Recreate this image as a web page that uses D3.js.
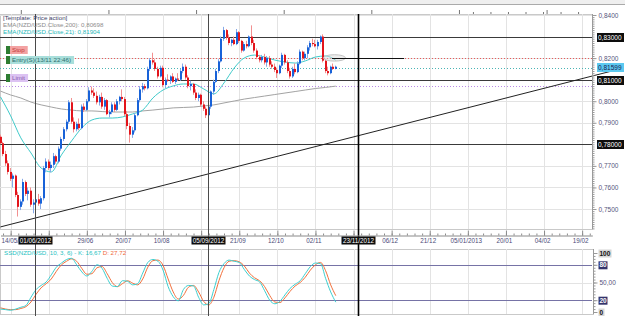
<!DOCTYPE html>
<html>
<head>
<meta charset="utf-8">
<script src="https://cdn.jsdelivr.net/npm/d3@7"></script>
<style>
    body { margin: 0; background: #fff; }
    svg { display: block; font-family: 'Liberation Sans', Arial, sans-serif; }
</style>
</head>
<body>
<div id="chart"></div>
<script>
// daily NZD/USD candles, [open, high, low, close]
const candles = [
    [.7835,.7845,.7800,.7805],[.7805,.7812,.7745,.7755],[.7755,.7770,.7700,.7712],[.7712,.7725,.7660,.7672],
    [.7672,.7690,.7630,.7640],[.7640,.7665,.7600,.7655],[.7655,.7660,.7555,.7565],[.7565,.7580,.7465,.7510],
    [.7510,.7545,.7495,.7535],[.7535,.7640,.7520,.7625],[.7625,.7632,.7560,.7570],[.7570,.7600,.7540,.7585],
    [.7585,.7600,.7510,.7520],[.7520,.7545,.7480,.7530],[.7530,.7560,.7500,.7545],[.7545,.7570,.7515,.7525],
    [.7525,.7560,.7500,.7550],[.7550,.7700,.7540,.7690],[.7690,.7735,.7670,.7720],[.7720,.7730,.7680,.7690],
    [.7690,.7720,.7670,.7705],[.7705,.7760,.7690,.7745],[.7745,.7752,.7710,.7720],[.7720,.7790,.7712,.7780],
    [.7780,.7835,.7770,.7825],[.7825,.7880,.7815,.7870],[.7870,.7915,.7860,.7905],[.7905,.8005,.7895,.7995],
    [.7995,.8015,.7895,.7905],[.7905,.7925,.7855,.7870],[.7870,.7905,.7860,.7895],[.7895,.7920,.7865,.7875],
    [.7875,.7985,.7870,.7975],[.7975,.7990,.7950,.7960],[.7960,.8010,.7955,.8000],[.8000,.8065,.7995,.8050],
    [.8050,.8068,.8030,.8040],[.8040,.8060,.8015,.8025],[.8025,.8045,.7985,.7995],[.7995,.8030,.7980,.8020],
    [.8020,.8040,.7965,.7975],[.7975,.8015,.7960,.8005],[.8005,.8010,.7935,.7940],[.7940,.7960,.7925,.7950],
    [.7950,.7995,.7940,.7985],[.7985,.7995,.7950,.7960],[.7960,.8010,.7955,.8000],[.8000,.8025,.7985,.8020],
    [.8020,.8055,.8000,.8010],[.8010,.8020,.7930,.7940],[.7940,.7955,.7870,.7885],[.7885,.7900,.7808,.7845],
    [.7845,.7880,.7830,.7865],[.7865,.7945,.7855,.7935],[.7935,.8015,.7930,.8005],[.8005,.8070,.7995,.8055],
    [.8055,.8085,.8040,.8070],[.8070,.8080,.8050,.8060],[.8060,.8160,.8055,.8150],[.8150,.8200,.8140,.8190],
    [.8190,.8225,.8170,.8180],[.8180,.8195,.8140,.8150],[.8150,.8160,.8105,.8115],[.8115,.8165,.8110,.8155],
    [.8155,.8165,.8065,.8075],[.8075,.8110,.8060,.8100],[.8100,.8125,.8090,.8095],[.8095,.8120,.8080,.8115],
    [.8115,.8130,.8085,.8090],[.8090,.8110,.8080,.8105],[.8105,.8130,.8095,.8100],[.8100,.8150,.8095,.8140],
    [.8140,.8175,.8130,.8160],[.8160,.8170,.8100,.8110],[.8110,.8120,.8060,.8070],[.8070,.8095,.8050,.8080],
    [.8080,.8085,.8030,.8040],[.8040,.8055,.8005,.8015],[.8015,.8040,.8000,.8030],[.8030,.8035,.7975,.7985],
    [.7985,.8000,.7955,.7965],[.7965,.7975,.7922,.7935],[.7935,.7985,.7920,.7975],[.7975,.8050,.7965,.8045],
    [.8045,.8100,.8030,.8090],[.8090,.8150,.8085,.8140],[.8140,.8195,.8130,.8185],[.8185,.8300,.8180,.8290],
    [.8290,.8345,.8280,.8330],[.8330,.8335,.8285,.8295],[.8295,.8310,.8260,.8270],[.8270,.8290,.8255,.8285],
    [.8285,.8300,.8260,.8265],[.8265,.8335,.8260,.8320],[.8320,.8325,.8270,.8280],[.8280,.8285,.8225,.8235],
    [.8235,.8275,.8230,.8265],[.8265,.8280,.8245,.8255],[.8255,.8305,.8250,.8300],[.8300,.8352,.8260,.8270],
    [.8270,.8285,.8225,.8235],[.8235,.8245,.8195,.8205],[.8205,.8215,.8180,.8190],[.8190,.8215,.8180,.8205],
    [.8205,.8220,.8170,.8180],[.8180,.8210,.8160,.8200],[.8200,.8210,.8160,.8170],[.8170,.8185,.8150,.8160],
    [.8160,.8175,.8135,.8145],[.8145,.8155,.8108,.8130],[.8130,.8170,.8125,.8165],[.8165,.8225,.8155,.8215],
    [.8215,.8220,.8170,.8180],[.8180,.8190,.8130,.8140],[.8140,.8155,.8105,.8115],[.8115,.8160,.8108,.8150],
    [.8150,.8175,.8125,.8135],[.8135,.8185,.8130,.8175],[.8175,.8240,.8170,.8230],[.8230,.8235,.8190,.8200],
    [.8200,.8230,.8190,.8220],[.8220,.8260,.8200,.8250],[.8250,.8280,.8235,.8270],[.8270,.8290,.8255,.8265],
    [.8265,.8285,.8250,.8255],[.8255,.8285,.8240,.8275],[.8275,.8305,.8265,.8300],[.8300,.8310,.8180,.8188],
    [.8188,.8195,.8130,.8140],[.8140,.8160,.8120,.8130],[.8130,.8165,.8125,.8160],[.8160,.8175,.8145,.8150],
    [.8150,.8165,.8148,.8160]
];

// moving averages, one reading every 4 bars
const ema21 = [.8020,.7932,.7830,.7760,.7690,.7672,.7751,.7816,.7876,.7913,.7922,.7922,.7927,.7941,.7959,.8015,
    .8052,.8071,.8080,.8080,.8057,.8034,.8085,.8154,.8201,.8214,.8205,.8191,.8182,.8177,.8187,.8205,.8210,.8190];
const ema200 = [.8047,.8029,.8015,.7996,.7983,.7973,.7964,.7959,.7955,.7955,.7952,.7950,.7950,.7950,.7955,.7959,
    .7964,.7969,.7971,.7973,.7978,.7983,.7992,.8001,.8010,.8017,.8024,.8031,.8038,.8045,.8052,.8059,.8064,.8070];

// slow stochastic, one reading every 2 bars
const stochK = [5,4,3,5,8,11,25,38,45,51,63,76,83,89,91,80,68,61,69,80,74,57,44,43,53,52,46,48,66,84,89,86,71,43,
    26,19,38,45,44,25,12,14,38,67,82,88,86,84,72,61,55,51,36,20,14,18,29,40,47,53,65,77,83,82,57,34,16.67];
const stochD = [7,5,4,4,6,9,17,30,41,48,56,69,80,86,90,86,74,64,65,75,77,65,50,43,48,53,49,46,56,76,87,88,79,56,
    34,22,28,42,45,34,18,12,25,53,75,86,87,85,78,66,58,53,43,28,17,16,24,35,44,50,59,71,80,84,70,46,27.72];

// date axis, a label every 15 slots starting at slot 4 ('' = covered by a marker box)
const dateLabels = ['14/05/', '', '29/06', '20/07', '10/08', '', '21/09', '12/10', '02/11', '',
    '06/12', '21/12', '05/01/2013', '20/01', '04/02', '19/02'];
const priceLabels = [0.75, 0.76, 0.77, 0.79, 0.80, 0.82, 0.84];
const levels = [0.83, 0.81, 0.78];
const markers = [{slot: 13.6, label: '01/06/2012'}, {slot: 81.7, label: '05/09/2012'}, {slot: 140.7, label: '23/11/2012'}];
const orders = [
    {name: 'Stop', price: 0.8200},
    {name: 'Entry(S)(13/11 22:46)', price: 0.8155},
    {name: 'Limit', price: 0.8071}
];
const trendLine = [[0, 0.7417], [243, 0.8147]];
const targetLine = [[130.5, 0.8199], [158.9, 0.8199]];
const lastPrice = 0.81599;
const stochLevels = [80, 20];

(function(){
    const width = 625, height = 316;
    const right = 592;
    const top = 14, bottom = 229;
    const sTop = 249, sBottom = 314;

    const svg = d3.select('#chart')
        .append('svg')
            .attr('width', width)
            .attr('height', height);

    const x = d3.scaleLinear().domain([0, 233]).range([0.5, 592.3]);
    const y = d3.scaleLinear().domain([0.75, 0.84]).range([209, 15]);
    const ys = d3.scaleLinear().domain([0, 100]).range([312, 253]);
    const comma = f => d => d3.format(f)(d).replace('.', ',');
    const gridSlots = dateLabels.map((d, k) => 4 + 15 * k);

    // top strip + ruler
    svg.append('rect').attr('width', width).attr('height', 4).attr('fill', '#efefef');
    svg.append('line').attr('x1', 0).attr('x2', width).attr('y1', 4.5).attr('y2', 4.5).attr('stroke', '#aaa');
    svg.append('g')
        .attr('transform', `translate(0, ${top})`)
        .call(d3.axisTop(x).tickValues(d3.range(8, 233, 34.5)).tickSize(4).tickSizeOuter(0).tickFormat(''))
        .call(g => g.select('.domain').remove())
        .selectAll('line').attr('stroke', '#777');
    svg.append('g')
        .attr('transform', `translate(0, ${top})`)
        .call(d3.axisTop(x).tickValues(d3.range(186, 233, 6.9)).tickSize(2).tickSizeOuter(0).tickFormat(''))
        .call(g => g.select('.domain').remove())
        .selectAll('line').attr('stroke', '#777');

    // panels
    svg.append('rect').attr('x', 0.5).attr('y', top + 0.5).attr('width', right).attr('height', bottom - top)
        .attr('fill', '#fff').attr('stroke', '#c9c9c9');
    svg.append('rect').attr('x', 0.5).attr('y', sTop + 0.5).attr('width', right + 1).attr('height', sBottom - sTop)
        .attr('fill', '#fff').attr('stroke', '#c9c9c9');

    // grid
    const grid = svg.append('g').attr('stroke', '#e3e3e3').attr('shape-rendering', 'crispEdges');
    grid.selectAll('.hg').data(y.ticks(9)).join('line')
        .attr('x1', 0).attr('x2', right).attr('y1', d => Math.round(y(d)) + 0.5).attr('y2', d => Math.round(y(d)) + 0.5);
    grid.selectAll('.vg').data(gridSlots).join('line')
        .attr('x1', d => Math.round(x(d)) + 0.5).attr('x2', d => Math.round(x(d)) + 0.5)
        .attr('y1', top).attr('y2', bottom);
    grid.selectAll('.vs').data(gridSlots).join('line')
        .attr('x1', d => Math.round(x(d)) + 0.5).attr('x2', d => Math.round(x(d)) + 0.5)
        .attr('y1', sTop).attr('y2', sBottom);
    grid.append('line').attr('x1', 0).attr('x2', right).attr('y1', Math.round(ys(50)) + 0.5).attr('y2', Math.round(ys(50)) + 0.5);

    const main = svg.append('g');
    main.append('clipPath').attr('id', 'clipMain')
        .append('rect').attr('x', 0).attr('y', top).attr('width', right).attr('height', bottom - top);

    // order lines (dotted)
    const orderColor = ['#e85a5a', '#49b5b5', '#b98ae6'];
    main.selectAll('.ol').data(orders).join('line')
        .attr('x1', 0).attr('x2', right)
        .attr('y1', d => Math.round(y(d.price)) + 0.5).attr('y2', d => Math.round(y(d.price)) + 0.5)
        .attr('stroke', (d, i) => orderColor[i]).attr('stroke-dasharray', '1,2');

    // horizontal levels
    main.selectAll('.lv').data(levels).join('line')
        .attr('x1', 0).attr('x2', right)
        .attr('y1', d => Math.round(y(d)) + 0.5).attr('y2', d => Math.round(y(d)) + 0.5)
        .attr('stroke', '#3a3a3a');

    // moving averages
    const lineMA = d3.line().x((d, k) => x(k * 4)).y(d => y(d)).curve(d3.curveMonotoneX);
    const plotG = main.append('g').attr('clip-path', 'url(#clipMain)');
    plotG.append('path').attr('d', lineMA(ema200)).attr('fill', 'none').attr('stroke', '#a3a3a3');
    plotG.append('path').attr('d', lineMA(ema21)).attr('fill', 'none').attr('stroke', '#3fcaca');

    // candles
    const cx = i => Math.round(x(i));
    plotG.selectAll('.wick').data(candles).join('line')
        .attr('x1', (d, i) => cx(i) - 0.5).attr('x2', (d, i) => cx(i) - 0.5)
        .attr('y1', d => y(d[1])).attr('y2', d => y(d[2]))
        .attr('stroke', d => d[3] >= d[0] ? '#86a9e8' : '#f29090');
    plotG.selectAll('.body').data(candles).join('rect')
        .attr('x', (d, i) => cx(i) - 1).attr('width', 2)
        .attr('y', d => y(Math.max(d[0], d[3])))
        .attr('height', d => Math.max(1, Math.abs(y(d[0]) - y(d[3]))))
        .attr('fill', d => d[3] >= d[0] ? '#1862d8' : '#e3141b');

    // trend line
    svg.append('path').attr('d', d3.line().x(d => x(d[0])).y(d => y(d[1]))(trendLine))
        .attr('stroke', '#222').attr('fill', 'none');

    // target marker
    main.append('ellipse').attr('cx', x(131.5)).attr('cy', y(0.8201)).attr('rx', 11).attr('ry', 3.2)
        .attr('fill', 'rgba(215,215,215,0.45)').attr('stroke', '#c4c4c4');
    main.append('path').attr('d', d3.line().x(d => x(d[0])).y(d => Math.round(y(d[1])) + 0.5)(targetLine))
        .attr('stroke', '#111').attr('fill', 'none');

    // stochastic
    svg.selectAll('.sl').data(stochLevels).join('line')
        .attr('x1', 0).attr('x2', right)
        .attr('y1', d => Math.round(ys(d)) + 0.5).attr('y2', d => Math.round(ys(d)) + 0.5)
        .attr('stroke', '#7673a6').attr('stroke-width', 1.2);
    const lineS = d3.line().x((d, k) => x(k * 2)).y(d => ys(d)).curve(d3.curveMonotoneX);
    svg.append('path').attr('d', lineS(stochD)).attr('fill', 'none').attr('stroke', '#f2703c');
    svg.append('path').attr('d', lineS(stochK)).attr('fill', 'none').attr('stroke', '#3ccfcf');

    // vertical markers
    svg.selectAll('.mk').data(markers).join('line')
        .attr('x1', d => Math.round(x(d.slot)) + 0.5).attr('x2', d => Math.round(x(d.slot)) + 0.5)
        .attr('y1', top).attr('y2', height)
        .attr('stroke', (d, i) => i === 2 ? '#000' : '#4a4a4a')
        .attr('stroke-width', (d, i) => i === 2 ? 1.6 : 1);

    // date axis
    svg.append('g')
        .attr('transform', 'translate(0, 235.5)')
        .call(d3.axisBottom(x).tickValues(d3.range(1, 233, 3)).tickSize(-2).tickSizeOuter(0).tickFormat(''))
        .call(g => g.select('.domain').attr('stroke', '#8a8a8a'))
        .selectAll('line').attr('stroke', '#8a8a8a');
    const dateAxis = svg.append('g')
        .attr('transform', 'translate(0, 235.5)')
        .call(d3.axisBottom(x).tickValues(gridSlots).tickSize(-5).tickSizeOuter(0).tickPadding(2)
            .tickFormat((d, k) => dateLabels[k]));
    dateAxis.select('.domain').remove();
    dateAxis.selectAll('line').attr('stroke', '#8a8a8a');
    dateAxis.selectAll('text')
        .attr('font-size', 6.3).attr('fill', '#4b4b78').attr('font-family', 'Liberation Sans, Arial, sans-serif')
        .attr('y', 3).attr('dx', -2);
    dateAxis.select('.tick text').attr('text-anchor', 'start').attr('x', d => 1 - x(gridSlots[0])).attr('dx', 0);

    const mBox = svg.selectAll('.mb').data(markers).join('g')
        .attr('transform', d => `translate(${Math.round(x(d.slot))}, 236.5)`);
    mBox.append('rect').attr('x', -16.5).attr('width', 34).attr('height', 8).attr('fill', '#0d0d0d');
    mBox.append('text').attr('x', 0.5).attr('y', 6.3).attr('text-anchor', 'middle')
        .attr('font-size', 6.3).attr('fill', '#fff').text(d => d.label);

    // price axis
    svg.append('line').attr('x1', right + 0.5).attr('x2', right + 0.5).attr('y1', top).attr('y2', bottom)
        .attr('stroke', '#9a9a9a');
    svg.append('g')
        .attr('transform', `translate(${right + 0.5}, 0)`)
        .call(d3.axisRight(y).tickValues(d3.range(741, 841).map(v => v / 1000)).tickSize(2).tickFormat(''))
        .call(g => g.select('.domain').remove())
        .selectAll('line').attr('stroke', '#9a9a9a');
    const pAxis = svg.append('g')
        .attr('transform', `translate(${right + 0.5}, 0)`)
        .call(d3.axisRight(y).tickValues(priceLabels).tickSize(4).tickPadding(2).tickFormat(comma('.4f')));
    pAxis.select('.domain').remove();
    pAxis.selectAll('line').attr('stroke', '#9a9a9a');
    pAxis.selectAll('text').attr('font-size', 6.5).attr('fill', '#55557c')
        .attr('font-family', 'Liberation Sans, Arial, sans-serif');

    const lvBox = svg.selectAll('.lb').data(levels.map(p => ({p: p, bg: '#0d0d0d', fg: '#fff'}))
            .concat([{p: lastPrice, bg: '#5cc9f0', fg: '#1b1b50'}]))
        .join('g').attr('transform', d => `translate(597, ${Math.round(y(d.p)) - 4})`);
    lvBox.append('rect').attr('width', 27).attr('height', 9).attr('fill', d => d.bg);
    lvBox.append('text').attr('x', 1).attr('y', 7).attr('font-size', 6.5).attr('fill', d => d.fg)
        .text(d => comma('.5f')(d.p));

    // stochastic axis
    svg.append('line').attr('x1', right + 1.5).attr('x2', right + 1.5).attr('y1', sTop).attr('y2', sBottom)
        .attr('stroke', '#9a9a9a');
    svg.append('g')
        .attr('transform', `translate(${right + 1.5}, 0)`)
        .call(d3.axisRight(ys).tickValues(d3.range(0, 101, 5)).tickSize(2).tickFormat(''))
        .call(g => g.select('.domain').remove())
        .selectAll('line').attr('stroke', '#9a9a9a');
    const sAxis = svg.append('g')
        .attr('transform', `translate(${right + 1.5}, 0)`)
        .call(d3.axisRight(ys).tickValues([0, 20, 50, 80, 100]).tickSize(4).tickPadding(2)
            .tickFormat(d => d === 50 ? '50,00' : d));
    sAxis.select('.domain').remove();
    sAxis.selectAll('line').attr('stroke', '#9a9a9a');
    sAxis.selectAll('text').attr('font-size', 6.5).attr('font-family', 'Liberation Sans, Arial, sans-serif')
        .attr('fill', d => d === 50 ? '#55557c' : (d === 20 || d === 80 ? '#fff' : '#111'))
        .attr('font-weight', d => d === 50 ? 'normal' : 'bold');
    sAxis.selectAll('.tick').filter(d => d !== 50)
        .insert('rect', 'text')
        .attr('x', 5).attr('y', -4).attr('height', 8)
        .attr('width', d => d === 100 ? 13 : (d === 0 ? 6 : 9))
        .attr('fill', d => d === 20 || d === 80 ? '#34346c' : '#d6d6d6');

    // legends
    const legend = svg.append('g').attr('font-size', 6.2);
    legend.append('text').attr('x', 3).attr('y', 20).attr('fill', '#3d3d66').text('[Template: Price action]');
    legend.append('text').attr('x', 3).attr('y', 27).attr('fill', '#8c8c8c').text('EMA(NZD/USD.Close,200): 0,80698');
    legend.append('text').attr('x', 3).attr('y', 34).attr('fill', '#1fb8b8').text('EMA(NZD/USD.Close,21): 0,81904');

    const sLeg = svg.append('text').attr('x', 4).attr('y', 255).attr('font-size', 6.2);
    sLeg.append('tspan').attr('fill', '#26c2c2').text('SSD(NZD/USD, 10, 3, 6) - K: 16,67  ');
    sLeg.append('tspan').attr('fill', '#f06a3a').text('D: 27,72');

    // order tags
    const tagBg = ['#f3a2a2', '#a9dfdb', '#dcc2f2'];
    const tagFg = ['#c23a3a', '#2f6f6f', '#8a5fb0'];
    const tags = svg.selectAll('.tag').data(orders).join('g')
        .attr('transform', d => `translate(6, ${Math.round(y(d.price)) - 12})`);
    tags.append('rect').attr('class', 'bg').attr('x', 4).attr('height', 8)
        .attr('fill', (d, i) => tagBg[i]);
    tags.append('rect').attr('width', 4).attr('height', 8).attr('fill', '#2e7d32');
    tags.append('text').attr('x', 6).attr('y', 6.3).attr('font-size', 6.2)
        .attr('fill', (d, i) => tagFg[i]).text(d => d.name);
    tags.each(function(){
        const g = d3.select(this);
        const w = g.select('text').node().getComputedTextLength();
        g.select('.bg').attr('width', w + 5);
    });
}())
</script>
</body>
</html>
